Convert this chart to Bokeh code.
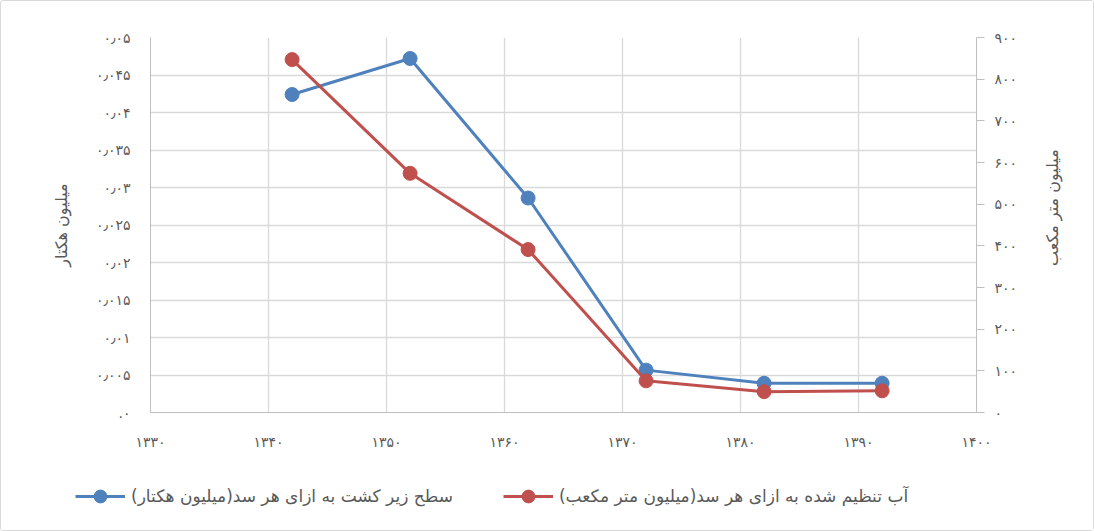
import math
from bokeh.plotting import figure
from bokeh.layouts import column, row
from bokeh.models import Range1d, LinearAxis, FixedTicker, Legend, LegendItem, Label
from bokeh.embed import file_html
from bokeh.resources import INLINE

# ---- data ----
years = [1342, 1352, 1362, 1372, 1382, 1392]
area_mha = [0.0424, 0.0472, 0.0286, 0.00565, 0.0039, 0.0039]
water_mcm = [847, 574, 391, 76, 50, 52]

x_ticks = [1330, 1340, 1350, 1360, 1370, 1380, 1390, 1400]
x_tick_labels = ["۱۳۳۰", "۱۳۴۰", "۱۳۵۰", "۱۳۶۰", "۱۳۷۰", "۱۳۸۰", "۱۳۹۰", "۱۴۰۰"]
left_ticks = [0, 0.005, 0.01, 0.015, 0.02, 0.025, 0.03, 0.035, 0.04, 0.045, 0.05]
left_tick_labels = [".۰", "۰٫۰۰۵", "۰٫۰۱", "۰٫۰۱۵", "۰٫۰۲", "۰٫۰۲۵", "۰٫۰۳",
                    "۰٫۰۳۵", "۰٫۰۴", "۰٫۰۴۵", "۰٫۰۵"]
right_ticks = [0, 100, 200, 300, 400, 500, 600, 700, 800, 900]
right_tick_labels = ["۰", "۱۰۰", "۲۰۰", "۳۰۰", "۴۰۰", "۵۰۰", "۶۰۰", "۷۰۰", "۸۰۰", "۹۰۰"]

series_names = ["سطح زیر کشت به ازای هر سد(میلیون هکتار)",
                "آب تنظیم شده به ازای هر سد(میلیون متر مکعب)"]
left_title = "میلیون هکتار"
right_title = "میلیون متر مکعب"

RLM = "\u200f"
FONT = "DejaVu Sans"
TXT = "#595959"
GRID = "#D9D9D9"
AXIS = "#BFBFBF"
BLUE = "#4F81BD"
RED = "#C0504D"

p = figure(width=1022, height=465, output_backend="svg", toolbar_location=None,
           x_range=Range1d(1330, 1400), y_range=Range1d(0, 0.05),
           min_border_left=149, min_border_right=47, min_border_top=36,
           min_border_bottom=54, outline_line_color=None,
           background_fill_color="white", border_fill_color="white")
p.extra_y_ranges = {"water": Range1d(0, 900)}

# axes
p.xaxis.ticker = FixedTicker(ticks=x_ticks)
p.xaxis.major_label_overrides = dict(zip(x_ticks, x_tick_labels))
p.yaxis.ticker = FixedTicker(ticks=left_ticks)
p.yaxis.major_label_overrides = dict(zip(left_ticks, left_tick_labels))
p.yaxis.axis_label = left_title

rax = LinearAxis(y_range_name="water", ticker=FixedTicker(ticks=right_ticks),
                 major_label_overrides=dict(zip(right_ticks, right_tick_labels)))
p.add_layout(rax, "right")

for ax in [p.xaxis[0], p.yaxis[0], rax]:
    ax.axis_line_color = AXIS
    ax.axis_line_width = 1
    ax.major_tick_line_color = None
    ax.minor_tick_line_color = None
    ax.major_label_text_font = FONT
    ax.major_label_text_font_size = "14px"
    ax.major_label_text_color = TXT
    ax.axis_label_text_font = FONT
    ax.axis_label_text_font_size = "16px"
    ax.axis_label_text_font_style = "normal"
    ax.axis_label_text_color = TXT

rax.major_tick_line_color = AXIS
rax.major_tick_out = 8
rax.major_tick_in = 0
rax.major_label_standoff = 10
p.yaxis[0].major_label_standoff = 14
p.yaxis[0].axis_label_standoff = 22
p.xaxis[0].major_label_standoff = 15

p.xgrid.ticker = FixedTicker(ticks=x_ticks)
p.ygrid.ticker = FixedTicker(ticks=left_ticks)
p.xgrid.grid_line_color = GRID
p.ygrid.grid_line_color = GRID
p.xgrid.grid_line_width = 1.3
p.ygrid.grid_line_width = 1.3

# series
p.line(years, area_mha, line_color=BLUE, line_width=3)
p.scatter(years, area_mha, size=14, fill_color=BLUE, line_color=BLUE)
p.line(years, water_mcm, line_color=RED, line_width=3, y_range_name="water")
p.scatter(years, water_mcm, size=14, fill_color=RED, line_color=RED,
          y_range_name="water")

# right-hand axis title (reads bottom-to-top like the reference)
tf = figure(width=70, height=465, output_backend="svg", toolbar_location=None,
            x_axis_type=None, y_axis_type=None, x_range=Range1d(0, 70),
            y_range=Range1d(0, 465), min_border=0, outline_line_color=None,
            background_fill_color="white", border_fill_color="white")
tf.xgrid.visible = False
tf.ygrid.visible = False
tf.add_layout(Label(x=29, y=254, text=right_title, angle=math.pi / 2,
                    text_align="center", text_baseline="middle",
                    text_font=FONT, text_font_size="16px", text_color=TXT))

# legend strip: same series drawn in a figure whose ranges exclude them,
# so only the legend keys show
lg = figure(width=1092, height=64, output_backend="svg", toolbar_location=None,
            x_axis_type=None, y_axis_type=None, x_range=Range1d(0, 1), y_range=Range1d(0, 1),
            min_border=0, outline_line_color=None,
            background_fill_color="white", border_fill_color="white")
lg.xgrid.visible = False
lg.ygrid.visible = False
kb_l = lg.line(years, area_mha, line_color=BLUE, line_width=3)
kb_d = lg.scatter(years, area_mha, size=14, fill_color=BLUE, line_color=BLUE)
kr_l = lg.line(years, water_mcm, line_color=RED, line_width=3)
kr_d = lg.scatter(years, water_mcm, size=14, fill_color=RED, line_color=RED)

legend = Legend(items=[LegendItem(label=series_names[0] + RLM, renderers=[kb_l, kb_d]),
                       LegendItem(label=series_names[1] + RLM, renderers=[kr_l, kr_d])],
                orientation="horizontal", location=(74, 18),
                label_text_font=FONT, label_text_font_size="17px", label_text_color=TXT,
                glyph_width=50, glyph_height=32, label_standoff=6, spacing=50,
                border_line_color=None, background_fill_alpha=0, margin=0, padding=0)
lg.add_layout(legend)

layout = column(row(p, tf, spacing=0), lg, spacing=0,
                styles={"border": "1px solid #D9D9D9", "border-radius": "3px"})

open("out.html", "w").write(file_html(layout, INLINE))
